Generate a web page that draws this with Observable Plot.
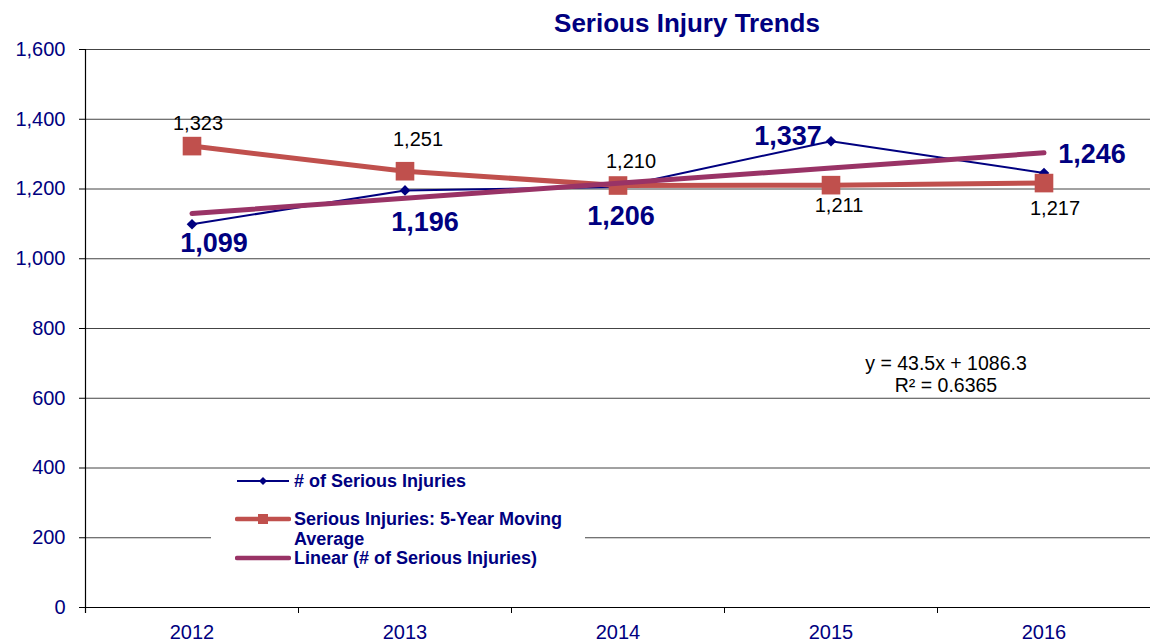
<!DOCTYPE html>
<html>
<head>
<meta charset="utf-8">
<script src="https://cdn.jsdelivr.net/npm/d3@7"></script>
<script src="https://cdn.jsdelivr.net/npm/@observablehq/plot@0.6"></script>
<style>
  body { margin: 0; background: #fff; font-family: "Liberation Sans", Arial, sans-serif; }
  #wrap { position: relative; width: 1152px; height: 643px; overflow: hidden; }
  #wrap svg.plot { position: absolute; left: 0; top: 0; }
  #title { position: absolute; left: 487px; width: 400px; top: 8px; text-align: center; line-height: 32px;
           font: bold 26px "Liberation Sans", Arial, sans-serif; color: #000080; }
  #eq { position: absolute; left: 796px; width: 300px; top: 352px; text-align: center;
        font: 19.5px "Liberation Sans", Arial, sans-serif; color: #000; line-height: 22px; }
  #legend { position: absolute; left: 211px; top: 469px; width: 374px; height: 106px; background: #fff;
            font: bold 18px "Liberation Sans", Arial, sans-serif; color: #000080; }
  .item { position: absolute; left: 24px; display: flex; align-items: flex-start; }
  .item svg { flex: none; margin-right: 3px; }
  .item span { line-height: 20px; }
</style>
</head>
<body>
<div id="wrap">
  <div id="title">Serious Injury Trends</div>
  <div id="eq">y = 43.5x + 1086.3<br>R² = 0.6365</div>
</div>
<script>
const years = [2012, 2013, 2014, 2015, 2016];
const injuries = [1099, 1196, 1206, 1337, 1246];
const movingAvg = [1323, 1251, 1210, 1211, 1217];
const linearTrend = [1129.8, 1173.3, 1216.8, 1260.3, 1303.8];
const yTicks = [0, 200, 400, 600, 800, 1000, 1200, 1400, 1600];
const seriesNames = ["# of Serious Injuries", "Serious Injuries: 5-Year Moving Average", "Linear (# of Serious Injuries)"];

const navy = "#000080", red = "#C0504D", purple = "#993366";

const injData = years.map((y, i) => ({year: y, v: injuries[i]}));
const maData = years.map((y, i) => ({year: y, v: movingAvg[i]}));
const trData = years.map((y, i) => ({year: y, v: linearTrend[i]}));

// label offsets (style only)
const injOff = [[22, 19], [20, 32], [3, 29], [-43, -5], [48, -19]];
const maOff = [[6, -23], [13, -32], [13, -24], [8, 20], [11, 26]];
const bounds = years.slice(0, -1).map(y => y + 0.5);
const fmt = d3.format(",");

const plot = Plot.plot({
  width: 1152,
  height: 643,
  marginTop: 49,
  marginBottom: 36,
  marginLeft: 85,
  marginRight: 2,
  style: {fontFamily: "'Liberation Sans', Arial, sans-serif", background: "transparent", overflow: "visible"},
  x: {domain: [years[0] - 0.5, years[years.length - 1] + 0.5]},
  y: {domain: [0, 1600]},
  marks: [
    Plot.gridY(yTicks, {stroke: "#444", strokeOpacity: 1, strokeWidth: 1}),
    Plot.axisY(yTicks, {tickSize: 6, tickPadding: 14, tickFormat: fmt, fontSize: 20, fill: navy, stroke: "#000", label: null}),
    Plot.axisX(years, {tickSize: 0, tickPadding: 17, tickFormat: "d", fontSize: 20, fill: navy, label: null}),
    Plot.axisX(bounds, {tickSize: 6, tickFormat: () => "", stroke: "#000", label: null}),
    Plot.ruleY([0], {stroke: "#000", strokeWidth: 1.2}),
    Plot.ruleX([years[0] - 0.5], {stroke: "#000", strokeWidth: 1.2, insetBottom: -6}),
    Plot.line(injData, {x: "year", y: "v", stroke: navy, strokeWidth: 2}),
    Plot.dot(injData, {x: "year", y: "v", symbol: "diamond2", r: 4.8, fill: navy}),
    Plot.line(maData, {x: "year", y: "v", stroke: red, strokeWidth: 5}),
    Plot.dot(maData, {x: "year", y: "v", symbol: "square", r: 10.5, fill: red}),
    Plot.line(trData, {x: "year", y: "v", stroke: purple, strokeWidth: 5, strokeLinecap: "round"}),
    ...injData.map((d, i) => Plot.text([d], {x: "year", y: "v", text: d => fmt(d.v), dx: injOff[i][0], dy: injOff[i][1],
      fontSize: 27, fontWeight: "bold", fill: navy})),
    ...maData.map((d, i) => Plot.text([d], {x: "year", y: "v", text: d => fmt(d.v), dx: maOff[i][0], dy: maOff[i][1],
      fontSize: 20, fill: "#000"}))
  ]
});
plot.classList.add("plot");
const wrap = document.getElementById("wrap");
wrap.insertBefore(plot, wrap.firstChild);

// legend
const legend = document.createElement("div");
legend.id = "legend";
const sw = [
  `<svg width="56" height="20"><line x1="2" y1="10" x2="54" y2="10" stroke="${navy}" stroke-width="2"/><path d="M28 6 L32 10 L28 14 L24 10 Z" fill="${navy}"/></svg>`,
  `<svg width="56" height="20"><line x1="2" y1="10" x2="54" y2="10" stroke="${red}" stroke-width="4.5" stroke-linecap="round"/><rect x="23" y="5" width="10" height="10" fill="${red}"/></svg>`,
  `<svg width="56" height="20"><line x1="2" y1="10" x2="54" y2="10" stroke="${purple}" stroke-width="4.5" stroke-linecap="round"/></svg>`
];
const tops = [2, 40, 79];
seriesNames.forEach((n, i) => {
  const it = document.createElement("div");
  it.className = "item";
  it.style.top = tops[i] + "px";
  const label = i === 1 ? "Serious Injuries: 5-Year Moving<br>Average" : n;
  it.innerHTML = sw[i] + `<span>${label}</span>`;
  legend.appendChild(it);
});
wrap.appendChild(legend);
</script>
</body>
</html>
